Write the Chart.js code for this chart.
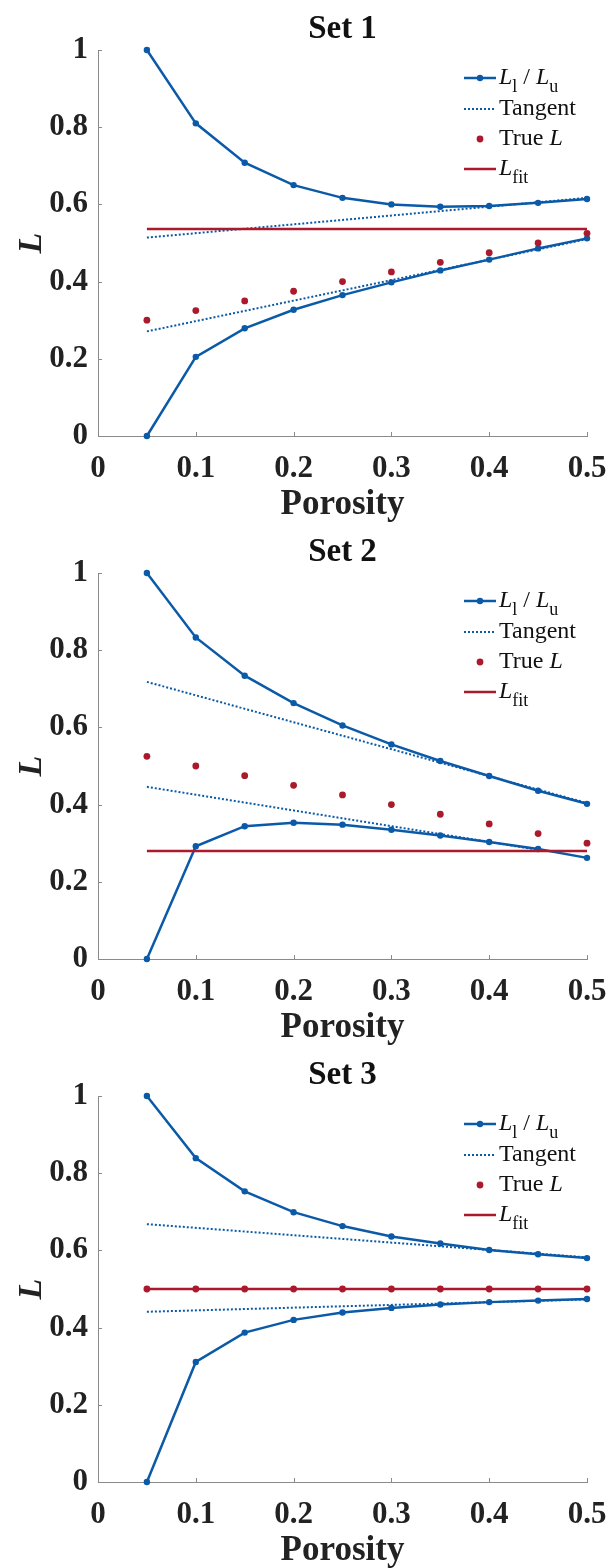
<!DOCTYPE html>
<html>
<head>
<meta charset="utf-8">
<script src="https://cdn.jsdelivr.net/npm/chart.js@4.4.1/dist/chart.umd.min.js"></script>
<style>
  html, body { margin: 0; padding: 0; background: #fff; }
  canvas { position: absolute; left: 0; }
</style>
</head>
<body>
<canvas id="set1" width="610" height="522" style="top:0px"></canvas>
<canvas id="set2" width="610" height="522" style="top:523px"></canvas>
<canvas id="set3" width="610" height="522" style="top:1046px"></canvas>
<script>
// data
const porosity = [0.05, 0.1, 0.15, 0.2, 0.25, 0.3, 0.35, 0.4, 0.45, 0.5];
const xTickLabels = ["0", "0.1", "0.2", "0.3", "0.4", "0.5"];
const yTickLabels = ["0", "0.2", "0.4", "0.6", "0.8", "1"];

// Set 1
const set1Upper = [1.0, 0.81, 0.708, 0.65, 0.617, 0.6, 0.594, 0.596, 0.604, 0.614];
const set1Lower = [0.0, 0.205, 0.279, 0.327, 0.365, 0.398, 0.429, 0.457, 0.486, 0.512];
const set1True = [0.3, 0.325, 0.35, 0.375, 0.4, 0.425, 0.45, 0.475, 0.5, 0.525];
const set1Fit = 0.536;
const set1TanX = [0.05, 0.5];
const set1TanUpper = [0.514, 0.617];
const set1TanLowerX = [0.05, 0.5];
const set1TanLower = [0.271, 0.51];

// Set 2
const set2Upper = [1.0, 0.833, 0.734, 0.663, 0.605, 0.556, 0.513, 0.474, 0.436, 0.402];
const set2Lower = [0.0, 0.292, 0.344, 0.353, 0.348, 0.335, 0.32, 0.303, 0.285, 0.262];
const set2True = [0.525, 0.5, 0.475, 0.45, 0.425, 0.4, 0.375, 0.35, 0.325, 0.3];
const set2Fit = 0.28;
const set2TanX = [0.05, 0.5];
const set2TanUpper = [0.718, 0.404];
const set2TanLowerX = [0.05, 0.45];
const set2TanLower = [0.446, 0.283];

// Set 3
const set3Upper = [1.0, 0.839, 0.753, 0.699, 0.663, 0.636, 0.618, 0.601, 0.59, 0.58];
const set3Lower = [0.0, 0.311, 0.387, 0.42, 0.439, 0.451, 0.46, 0.466, 0.47, 0.474];
const set3True = [0.5, 0.5, 0.5, 0.5, 0.5, 0.5, 0.5, 0.5, 0.5, 0.5];
const set3Fit = 0.5;
const set3TanX = [0.05, 0.5];
const set3TanUpper = [0.668, 0.582];
const set3TanLowerX = [0.05, 0.5];
const set3TanLower = [0.441, 0.473];

const BLUE = "#0b5aa8";
const RED = "#ab1a2c";
const AXIS = "#8a8a8a";
const SERIF = "'Liberation Serif', 'Times New Roman', serif";

const pts = (xs, ys) => xs.map((x, i) => ({ x: x, y: ys[i] }));

// small ticks pointing into the plot, like matlab
const innerTicks = {
  id: "innerTicks",
  afterDraw(chart) {
    const { ctx, chartArea, scales } = chart;
    ctx.save();
    ctx.strokeStyle = AXIS;
    ctx.lineWidth = 1;
    scales.x.ticks.forEach(t => {
      const px = Math.round(scales.x.getPixelForValue(t.value)) + 0.5;
      ctx.beginPath();
      ctx.moveTo(px, chartArea.bottom);
      ctx.lineTo(px, chartArea.bottom - 4);
      ctx.stroke();
    });
    scales.y.ticks.forEach(t => {
      const py = Math.round(scales.y.getPixelForValue(t.value)) + 0.5;
      ctx.beginPath();
      ctx.moveTo(chartArea.left, py);
      ctx.lineTo(chartArea.left + 4, py);
      ctx.stroke();
    });
    ctx.restore();
  }
};

// legend with subscripts drawn by hand
function drawRich(ctx, x, y, parts) {
  parts.forEach(p => {
    const size = p.sub ? 18 : 24;
    ctx.font = (p.italic ? "italic " : "") + size + "px " + SERIF;
    ctx.fillText(p.t, x, y + (p.sub ? 9 : 0));
    x += ctx.measureText(p.t).width;
  });
}

const richLegend = {
  id: "richLegend",
  afterDraw(chart) {
    const ctx = chart.ctx;
    const top = chart.chartArea.top;
    const x0 = 464, x1 = 496, tx = 499;
    const rows = [top + 28, top + 59, top + 89, top + 119];
    ctx.save();
    ctx.textBaseline = "middle";
    ctx.textAlign = "left";
    ctx.fillStyle = "#111";

    // L_l / L_u
    ctx.strokeStyle = BLUE; ctx.lineWidth = 2.5;
    ctx.beginPath(); ctx.moveTo(x0, rows[0]); ctx.lineTo(x1, rows[0]); ctx.stroke();
    ctx.fillStyle = BLUE;
    ctx.beginPath(); ctx.arc((x0 + x1) / 2, rows[0], 3.2, 0, Math.PI * 2); ctx.fill();
    ctx.fillStyle = "#111";
    drawRich(ctx, tx, rows[0], [
      { t: "L", italic: true }, { t: "l", sub: true }, { t: " / " },
      { t: "L", italic: true }, { t: "u", sub: true }
    ]);

    // Tangent
    ctx.strokeStyle = BLUE; ctx.lineWidth = 2; ctx.setLineDash([2, 2]);
    ctx.beginPath(); ctx.moveTo(x0, rows[1]); ctx.lineTo(x1, rows[1]); ctx.stroke();
    ctx.setLineDash([]);
    drawRich(ctx, tx, rows[1], [{ t: "Tangent" }]);

    // True L
    ctx.fillStyle = RED;
    ctx.beginPath(); ctx.arc((x0 + x1) / 2, rows[2], 3.4, 0, Math.PI * 2); ctx.fill();
    ctx.fillStyle = "#111";
    drawRich(ctx, tx, rows[2], [{ t: "True " }, { t: "L", italic: true }]);

    // L_fit
    ctx.strokeStyle = RED; ctx.lineWidth = 2.5;
    ctx.beginPath(); ctx.moveTo(x0, rows[3]); ctx.lineTo(x1, rows[3]); ctx.stroke();
    drawRich(ctx, tx, rows[3], [{ t: "L", italic: true }, { t: "fit", sub: true }]);
    ctx.restore();
  }
};

function makeChart(id, title, upper, lower, trueL, fit, tanX, tanUpper, tanLowerX, tanLower) {
  const H = 522;
  return new Chart(id, {
    type: "scatter",
    data: {
      datasets: [
        { label: "L_fit", data: pts([porosity[0], porosity[porosity.length - 1]], [fit, fit]),
          showLine: true, borderColor: RED, borderWidth: 2.5, pointRadius: 0, order: 0, clip: false },
        { label: "True L", data: pts(porosity, trueL), showLine: false, clip: false,
          pointRadius: 3.4, pointBackgroundColor: RED, pointBorderWidth: 0, order: 1 },
        { label: "Tangent", data: pts(tanX, tanUpper), showLine: true, borderColor: BLUE, clip: false,
          borderWidth: 2, borderDash: [2, 2], pointRadius: 0, order: 2 },
        { label: "Tangent", data: pts(tanLowerX, tanLower), showLine: true, borderColor: BLUE, clip: false,
          borderWidth: 2, borderDash: [2, 2], pointRadius: 0, order: 2 },
        { label: "L_u", data: pts(porosity, upper), showLine: true, borderColor: BLUE, clip: false,
          borderWidth: 2.5, pointRadius: 3.2, pointBackgroundColor: BLUE, pointBorderWidth: 0, order: 3 },
        { label: "L_l", data: pts(porosity, lower), showLine: true, borderColor: BLUE, clip: false,
          borderWidth: 2.5, pointRadius: 3.2, pointBackgroundColor: BLUE, pointBorderWidth: 0, order: 3 }
      ]
    },
    options: {
      responsive: false,
      animation: false,
      layout: { padding: { left: 0, right: 23, top: 0, bottom: 0 } },
      plugins: { legend: { display: false }, tooltip: { enabled: false } },
      scales: {
        x: {
          type: "linear", position: "bottom", min: 0, max: 0.5,
          afterFit: s => { s.height = H - 436; s.paddingLeft = 0; s.paddingRight = 20; },
          ticks: { stepSize: 0.1, autoSkip: false, maxRotation: 0, padding: 14, color: "#222",
                   font: { family: SERIF, size: 31, weight: "bold" },
                   callback: (v, i) => xTickLabels[i] },
          grid: { display: false, drawTicks: false },
          border: { display: true, color: AXIS, width: 1 },
          title: { display: true, text: "Porosity", color: "#222",
                   font: { family: SERIF, size: 35, weight: "bold", lineHeight: 1 },
                   padding: { top: 0, bottom: 0 } }
        },
        top: {
          type: "linear", position: "top", min: 0, max: 1,
          afterFit: s => { s.height = 50; s.paddingLeft = 0; s.paddingRight = 0; },
          ticks: { display: false },
          grid: { display: false, drawTicks: false },
          border: { display: false },
          title: { display: true, text: title, color: "#111",
                   font: { family: SERIF, size: 33, weight: "bold", lineHeight: 1 },
                   padding: { top: 13, bottom: 0 } }
        },
        y: {
          type: "linear", position: "left", min: 0, max: 1,
          afterFit: s => { s.width = 98; },
          ticks: { stepSize: 0.2, autoSkip: false, padding: 10, color: "#222",
                   font: { family: SERIF, size: 31, weight: "bold" },
                   callback: (v, i) => yTickLabels[i] },
          grid: { display: false, drawTicks: false },
          border: { display: true, color: AXIS, width: 1 },
          title: { display: true, text: "L", color: "#222",
                   font: { family: SERIF, size: 34, weight: "bold", style: "italic", lineHeight: 1.2 },
                   padding: { top: 12, bottom: 0 } }
        }
      }
    },
    plugins: [innerTicks, richLegend]
  });
}

makeChart("set1", "Set 1", set1Upper, set1Lower, set1True, set1Fit, set1TanX, set1TanUpper, set1TanLowerX, set1TanLower);
makeChart("set2", "Set 2", set2Upper, set2Lower, set2True, set2Fit, set2TanX, set2TanUpper, set2TanLowerX, set2TanLower);
makeChart("set3", "Set 3", set3Upper, set3Lower, set3True, set3Fit, set3TanX, set3TanUpper, set3TanLowerX, set3TanLower);
</script>
</body>
</html>
